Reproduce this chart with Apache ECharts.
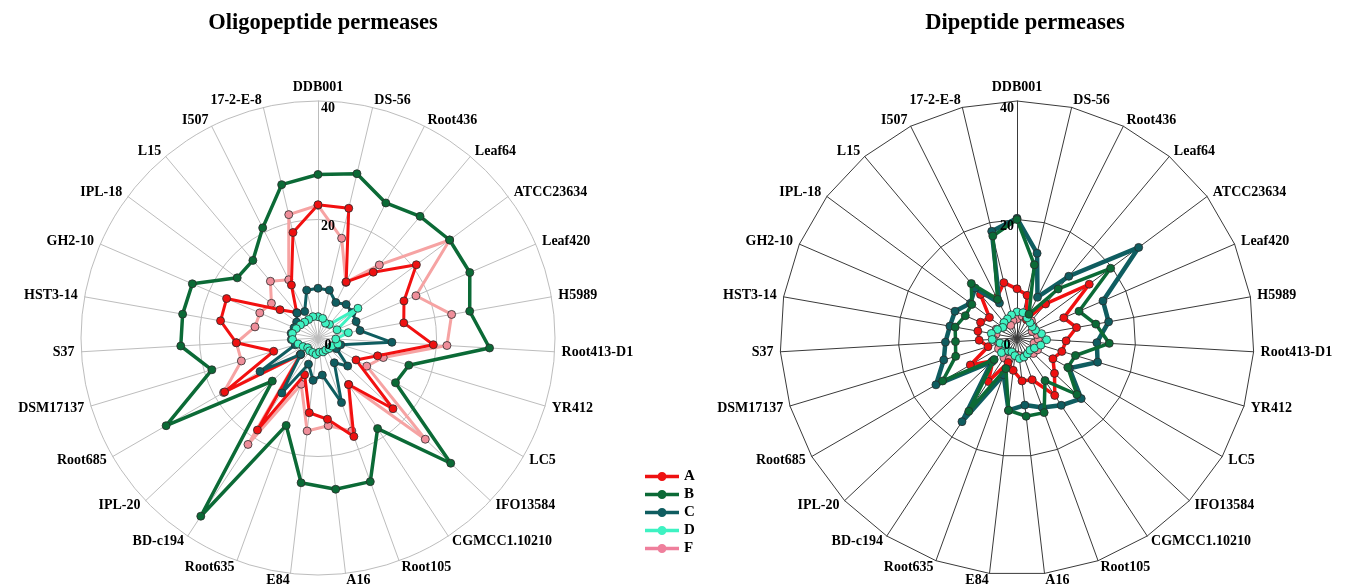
<!DOCTYPE html>
<html>
<head>
<meta charset="utf-8">
<script src="https://cdn.jsdelivr.net/npm/echarts@6/dist/echarts.min.js"></script>
<style>
  html, body { margin: 0; padding: 0; background: #fff; }
  #chart { width: 1357px; height: 586px; }
</style>
</head>
<body>
<div id="chart"></div>
<script>
// Strains, listed clockwise from the top axis
const strains = ['DDB001', 'DS-56', 'Root436', 'Leaf64', 'ATCC23634', 'Leaf420', 'H5989',
  'Root413-D1', 'YR412', 'LC5', 'IFO13584', 'CGMCC1.10210', 'Root105', 'A16', 'E84',
  'Root635', 'BD-c194', 'IPL-20', 'Root685', 'DSM17137', 'S37', 'HST3-14', 'GH2-10',
  'IPL-18', 'L15', 'I507', '17-2-E-8'];

const groups = ['A', 'B', 'C', 'D', 'F'];
const radiusTicks = [0, 20, 40];

// Oligopeptide permeases
const oligoA = [22.5, 22.5, 10.6, 14.5, 20.7, 15.8, 14.7, 19.5, 10.5, 7.4, 17.4, 9.4, 17.7, 13.8, 12.7, 6.6, 18.6, 4.0, 18.2, 7.8, 13.8, 16.7, 16.8, 8.0, 5.6, 10.0, 18.3];
const oligoB = [27.6, 28.5, 25.5, 26.8, 27.7, 27.9, 26.0, 29.0, 16.0, 15.1, 30.8, 18.3, 25.8, 25.7, 24.6, 15.7, 36.0, 10.6, 29.6, 18.7, 23.2, 23.2, 23.1, 17.0, 17.1, 20.8, 26.6];
const oligoC = [8.4, 8.3, 6.7, 7.4, 7.2, 7.0, 7.2, 12.5, 4.0, 3.6, 6.9, 5.0, 11.6, 6.3, 7.2, 4.7, 11.1, 4.0, 11.3, 4.0, 4.5, 4.6, 4.4, 4.5, 5.5, 5.0, 8.3];
const oligoD = [3.6, 3.4, 2.8, 3.0, 8.4, 3.5, 5.2, 3.0, 3.5, 2.7, 2.6, 2.4, 2.5, 2.4, 2.8, 2.6, 2.6, 2.4, 2.9, 3.5, 4.3, 4.4, 4.0, 3.7, 3.5, 3.5, 3.7];
const oligoF = [22.4, 17.3, 10.5, 16.1, 27.7, 18.0, 22.9, 21.8, 11.5, 9.5, 24.9, 9.4, 16.7, 14.9, 15.8, 8.3, 21.5, 4.2, 18.4, 13.5, 13.8, 10.8, 10.7, 9.8, 12.5, 11.0, 21.4];

// Dipeptide permeases
const dipA = [8.3, 7.4, 3.5, 7.5, 15.2, 8.6, 10.2, 8.3, 7.9, 7.0, 8.7, 11.6, 7.5, 7.3, 5.5, 4.4, 8.8, 5.6, 9.1, 5.1, 6.4, 6.7, 6.7, 5.8, 9.6, 7.6, 9.6];
const dipB = [20.0, 12.7, 4.5, 10.8, 19.7, 11.4, 13.5, 15.6, 10.3, 9.9, 13.9, 8.6, 13.4, 13.3, 12.3, 5.5, 14.8, 5.3, 14.5, 10.8, 10.4, 10.6, 9.5, 9.5, 12.0, 7.3, 17.7];
const dipC = [20.2, 14.7, 7.7, 13.6, 25.6, 15.8, 15.7, 13.5, 14.2, 10.2, 14.9, 13.6, 12.5, 11.4, 12.3, 6.6, 16.9, 5.9, 15.8, 12.9, 12.1, 11.5, 11.4, 9.8, 11.0, 6.6, 18.5];
const dipD = [4.4, 4.4, 3.8, 3.4, 3.2, 3.4, 4.2, 5.0, 4.2, 3.4, 3.0, 3.2, 3.4, 3.5, 3.0, 2.5, 2.6, 3.6, 2.2, 3.0, 4.2, 4.4, 3.6, 3.0, 3.4, 3.6, 4.0];
const dipF = [3.2, 3.8, 4.0, 3.8, 3.4, 2.8, 3.4, 3.6, 3.0, 4.0, 3.8, 3.2, 3.4, 3.0, 2.8, 3.8, 4.0, 3.4, 3.6, 3.2, 4.0, 3.6, 3.8, 3.0, 3.4, 2.4, 3.0];

const serif = "'Liberation Serif', 'Times New Roman', serif";

// radar lays indicators out counter-clockwise; keep the first one on top and flip the rest
const cw = arr => [arr[0], ...arr.slice(1).reverse()];

const colors = {
  A: { line: '#f21010', item: '#ee1111', legend: '#ee1111' },
  B: { line: '#0b6a36', item: '#0b6a36', legend: '#0b6a36' },
  C: { line: '#0f5d60', item: '#0f5d60', legend: '#0f5d60' },
  D: { line: '#3ef2c2', item: '#3ef2c2', legend: '#3ef2c2' },
  F: { line: '#f6a3a3', item: '#ef8e9a', legend: '#ef7f9c' }
};

const ringRadius = 237;

function radarBox(center, gridColor, shape) {
  return {
    center: center,
    radius: ringRadius,
    startAngle: 90,
    splitNumber: 2,
    shape: shape,
    indicator: cw(strains).map(n => ({ name: n, min: 0, max: radiusTicks[radiusTicks.length - 1] })),
    axisName: { color: '#000', fontFamily: serif, fontWeight: 'bold', fontSize: 14 },
    nameGap: 7,
    splitLine: { lineStyle: { color: gridColor, width: 1 } },
    splitArea: { show: false },
    axisLine: { lineStyle: { color: gridColor, width: 1 } }
  };
}

function groupSeries(radarIndex, name, values, width) {
  const c = colors[name];
  return {
    type: 'radar',
    name: name,
    radarIndex: radarIndex,
    symbol: 'circle',
    symbolSize: 8,
    z: { F: 2, A: 3, C: 4, D: 5, B: 6 }[name],
    lineStyle: { color: c.line, width: width },
    itemStyle: { color: c.item, borderColor: '#2b2b2b', borderWidth: 0.8 },
    data: [{ name: name, value: cw(values) }]
  };
}

// legend glyph: a short bar with a round marker in the middle
const legendIcon = 'path://M0,4.2H34V7.8H0Z M21.5,6A4.5,4.5 0 1 1 12.5,6A4.5,4.5 0 1 1 21.5,6Z';

const option = {
  animation: false,
  backgroundColor: '#fff',
  title: [
    { text: 'Oligopeptide permeases', left: 318, top: 7, textAlign: 'center',
      textStyle: { fontFamily: serif, fontWeight: 'bold', fontSize: 22.5, color: '#000' } },
    { text: 'Dipeptide permeases', left: 1020, top: 7, textAlign: 'center',
      textStyle: { fontFamily: serif, fontWeight: 'bold', fontSize: 22.5, color: '#000' } }
  ],
  legend: {
    data: groups.map(g => ({ name: g, icon: legendIcon,
      itemStyle: { color: colors[g].legend, borderWidth: 0 } })),
    orient: 'vertical',
    left: 640,
    top: 464,
    itemWidth: 34,
    itemHeight: 11,
    itemGap: 3,
    textStyle: { fontFamily: serif, fontWeight: 'bold', fontSize: 15, color: '#000', lineHeight: 15 }
  },
  radar: [
    radarBox([318, 338], '#bdbdbd', 'circle'),
    radarBox([1017, 338], '#3a3a3a', 'polygon')
  ],
  polar: [
    { center: [318, 338], radius: ringRadius },
    { center: [1017, 338], radius: ringRadius }
  ],
  angleAxis: [
    { polarIndex: 0, startAngle: 90, show: false },
    { polarIndex: 1, startAngle: 90, show: false }
  ],
  radiusAxis: [0, 1].map(i => ({
    polarIndex: i,
    min: radiusTicks[0],
    max: radiusTicks[radiusTicks.length - 1],
    interval: radiusTicks[1] - radiusTicks[0],
    axisLine: { show: false },
    axisTick: { show: false },
    splitLine: { show: false },
    z: 10,
    axisLabel: {
      fontFamily: serif, fontWeight: 'bold', fontSize: 14, color: '#000',
      margin: i === 0 ? -10 : 10, align: 'center', verticalAlign: 'top'
    }
  })),
  series: [
    groupSeries(0, 'F', oligoF, 3),
    groupSeries(0, 'A', oligoA, 3),
    groupSeries(0, 'C', oligoC, 3),
    groupSeries(0, 'D', oligoD, 3),
    groupSeries(0, 'B', oligoB, 3.5),
    groupSeries(1, 'F', dipF, 3),
    groupSeries(1, 'A', dipA, 3.5),
    groupSeries(1, 'B', dipB, 3.5),
    groupSeries(1, 'C', dipC, 4.5),
    groupSeries(1, 'D', dipD, 3)
  ]
};

const chart = echarts.init(document.getElementById('chart'), null, { renderer: 'canvas' });
chart.setOption(option);
</script>
</body>
</html>
